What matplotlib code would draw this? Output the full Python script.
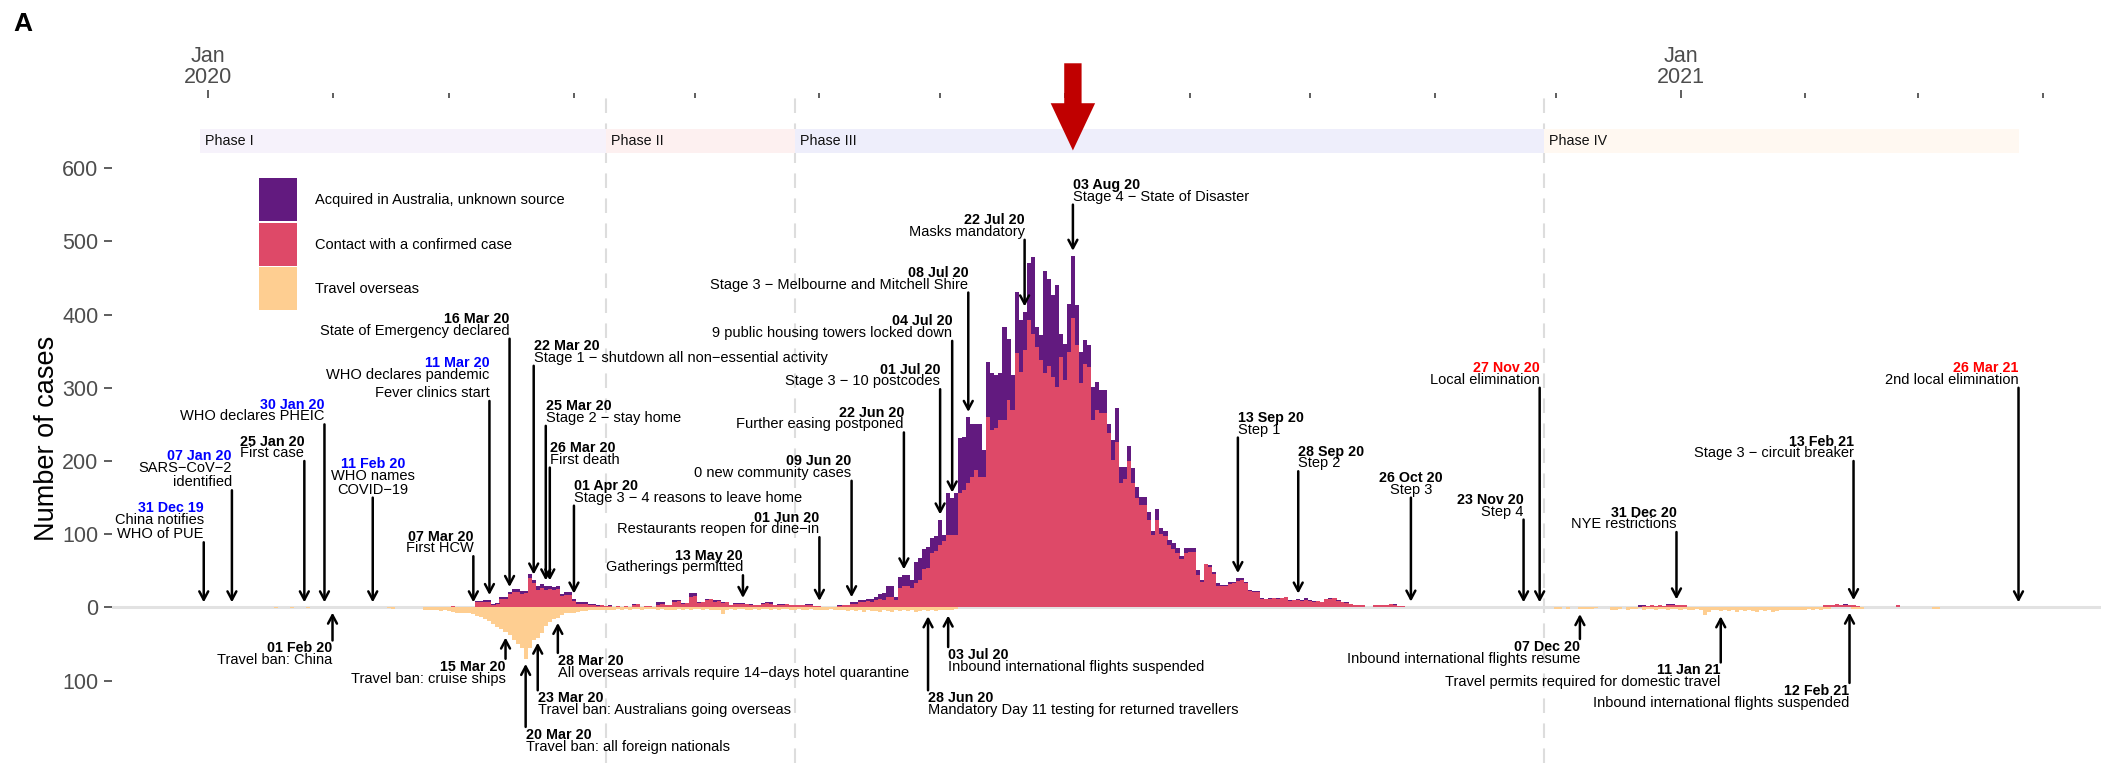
import matplotlib
matplotlib.use("Agg")
import matplotlib.pyplot as plt
import matplotlib.dates as mdates
from matplotlib.patches import Rectangle
from matplotlib.ticker import FixedLocator, FuncFormatter
import pandas as pd

plt.rcParams["font.family"] = ["Liberation Sans", "DejaVu Sans"]

# ---------------------------------------------------------------- data
# locally acquired cases, one row per Monday-Sunday week from 2 Mar 2020:
# daily total and the part of it with an unknown source
local_2020_start = "2020-03-02"
local_2020_total = [
    2, 0, 0, 1, 0, 0, 9,
    9, 10, 10, 5, 6, 14, 14,
    21, 25, 25, 23, 23, 46, 38,
    30, 32, 30, 30, 28, 30, 19,
    21, 21, 12, 7, 7, 7, 5,
    5, 3, 3, 2, 3, 0, 2,
    1, 2, 0, 5, 5, 0, 2,
    2, 0, 7, 7, 3, 3, 10,
    10, 6, 6, 20, 20, 7, 7,
    12, 12, 10, 10, 7, 7, 3,
    6, 6, 6, 5, 5, 4, 4,
    6, 7, 7, 3, 5, 5, 5,
    3, 3, 4, 4, 5, 5, 2,
    2, 1, 1, 1, 1, 3, 4,
    4, 7, 7, 10, 10, 12, 12,
    14, 19, 20, 29, 30, 15, 42,
    45, 45, 38, 62, 67, 80, 83,
    95, 97, 120, 99, 156, 150, 156,
    231, 233, 260, 251, 250, 250, 215,
    335, 320, 317, 320, 383, 367, 317,
    431, 392, 404, 470, 479, 383, 372,
    460, 449, 426, 440, 374, 360, 415,
    480, 413, 349, 365, 358, 301, 308,
    297, 297, 251, 229, 272, 192, 192,
    220, 190, 165, 151, 151, 131, 104,
    135, 108, 104, 92, 88, 81, 70,
    81, 81, 81, 51, 38, 60, 58,
    49, 33, 31, 31, 35, 35, 40,
    40, 35, 24, 22, 22, 13, 11,
    13, 13, 13, 13, 15, 10, 10,
    12, 10, 13, 10, 9, 9, 8,
    12, 13, 13, 10, 8, 7, 5,
    4, 4, 4, 1, 0, 4, 4,
    3, 4, 5, 5, 2, 2, 1,
    1, 1,
]
local_2020_unknown = [
    0, 0, 0, 0, 0, 0, 2,
    2, 3, 3, 1, 1, 3, 3,
    3, 4, 4, 4, 3, 6, 5,
    6, 5, 6, 5, 4, 5, 3,
    4, 4, 3, 2, 2, 2, 1,
    1, 1, 0, 0, 1, 0, 0,
    0, 0, 0, 1, 0, 0, 0,
    0, 0, 3, 2, 0, 0, 2,
    1, 1, 0, 5, 4, 1, 0,
    2, 1, 2, 1, 1, 0, 0,
    1, 1, 1, 0, 1, 0, 1,
    1, 1, 2, 0, 1, 1, 0,
    0, 0, 1, 0, 1, 1, 0,
    0, 0, 0, 0, 0, 1, 1,
    1, 2, 2, 3, 3, 3, 4,
    4, 8, 10, 14, 15, 5, 15,
    16, 16, 12, 28, 29, 28, 29,
    20, 20, 35, 8, 57, 51, 57,
    75, 73, 90, 73, 62, 72, 37,
    75, 78, 72, 64, 127, 84, 47,
    84, 70, 53, 78, 105, 27, 34,
    140, 119, 111, 139, 32, 50, 66,
    85, 55, 43, 32, 29, 45, 38,
    32, 32, 13, 28, 46, 22, 17,
    20, 20, 15, 11, 11, 11, 5,
    15, 8, 7, 7, 8, 7, 4,
    6, 5, 5, 6, 3, 0, 3,
    3, 3, 2, 2, 3, 2, 4,
    3, 2, 2, 1, 1, 1, 0,
    1, 0, 1, 0, 1, 1, 0,
    2, 1, 3, 1, 1, 0, 1,
    1, 1, 0, 1, 0, 1, 0,
    0, 1, 0, 0, 0, 0, 0,
    0, 0, 0, 1, 0, 0, 0,
    0, 0,
]

# later local clusters
local_dec_start = "2020-12-22"
local_dec_total = [4, 4, 2, 3, 2, 3, 2, 5, 5, 4, 4, 3, 1, 1]
local_dec_unknown = [3, 2, 0, 0, 0, 0, 0, 2, 1, 0, 1, 0, 0, 0]
local_feb_start = "2021-02-06"
local_feb_total = [3, 4, 4, 5, 4, 5, 4, 3, 2, 0, 0, 0, 0, 0, 0, 0, 0, 0, 3]
local_feb_unknown = [0, 0, 1, 0, 0, 1, 0, 0, 0, 0, 0, 0, 0, 0, 0, 0, 0, 0, 0]

# overseas acquired cases
travel_early_dates = ["2020-01-18", "2020-01-22", "2020-01-26", "2020-02-15", "2020-02-16"]
travel_early = [1, 1, 1, 1, 2]
travel_2020_start = "2020-02-24"
travel_2020 = [
    3, 3, 4, 3, 5, 4, 5,
    6, 7, 7, 8, 8, 9, 11,
    13, 16, 19, 22, 26, 30, 34,
    38, 44, 50, 55, 70, 55, 45,
    41, 35, 25, 20, 16, 14, 10,
    8, 7, 7, 6, 5, 5, 4,
    4, 3, 4, 3, 3, 3, 2,
    3, 2, 3, 2, 2, 3, 2,
    2, 2, 3, 2, 3, 4, 3,
    2, 3, 2, 3, 2, 2, 3,
    2, 3, 4, 3, 9, 3, 2,
    3, 2, 2, 3, 4, 2, 3,
    2, 2, 3, 2, 3, 2, 2,
    3, 4, 2, 3, 3, 2, 3,
    3, 4, 3, 2, 3, 3, 4,
    5, 4, 5, 4, 6, 4, 5,
    5, 6, 4, 5, 6, 4, 5,
    4, 5, 4, 6, 5, 4, 5,
    4, 5, 4, 3, 4, 3, 2,
]
travel_2021_start = "2020-11-30"
travel_2021 = [
    0, 2, 2, 0, 2, 0, 0,
    2, 2, 2, 2, 1, 0, 0,
    0, 3, 3, 2, 0, 3, 2,
    2, 1, 3, 2, 2, 3, 2,
    2, 3, 2, 2, 3, 2, 3,
    3, 2, 3, 10, 6, 4, 4,
    5, 4, 5, 4, 6, 4, 5,
    4, 5, 6, 4, 5, 4, 6,
    5, 4, 3, 4, 3, 3, 3,
    3, 2, 3, 2, 3, 2, 2,
    0, 0, 0, 0, 0, 2, 2,
    2, 0, 0, 0, 0, 0, 0,
    0, 0, 0, 0, 0, 0, 0,
    0, 0, 0, 0, 2, 2, 0,
]

series_labels = ["Acquired in Australia, unknown source",
                 "Contact with a confirmed case", "Travel overseas"]
col_unknown = "#621A7F"
col_contact = "#DE4968"
col_travel = "#FECE91"

# response phases
phase_names = ["Phase I", "Phase II", "Phase III", "Phase IV"]
phase_starts = ["2019-12-30", "2020-04-09", "2020-05-26", "2020-11-28"]
phase_end = "2021-03-26"
phase_colors = ["#F6F2FB", "#FDF0F0", "#EEEEFB", "#FFF8F1"]

# events with arrows pointing down onto the bars
up_dates = ["2019-12-31", "2020-01-07", "2020-01-25", "2020-01-30", "2020-02-11",
            "2020-03-07", "2020-03-11", "2020-03-16", "2020-03-22", "2020-03-25",
            "2020-03-26", "2020-04-01", "2020-05-13", "2020-06-01", "2020-06-09",
            "2020-06-22", "2020-07-01", "2020-07-04", "2020-07-08", "2020-07-22",
            "2020-08-03", "2020-09-13", "2020-09-28", "2020-10-26", "2020-11-23",
            "2020-11-27", "2020-12-31", "2021-02-13", "2021-03-26"]
up_texts = ["China notifies\nWHO of PUE", "SARS\u2212CoV\u22122\nidentified", "First case",
            "WHO declares PHEIC", "WHO names\nCOVID\u221219", "First HCW",
            "WHO declares pandemic", "State of Emergency declared",
            "Stage 1 \u2212 shutdown all non\u2212essential activity", "Stage 2 \u2212 stay home",
            "First death", "Stage 3 \u2212 4 reasons to leave home", "Gatherings permitted",
            "Restaurants reopen for dine\u2212in", "0 new community cases",
            "Further easing postponed", "Stage 3 \u2212 10 postcodes",
            "9 public housing towers locked down",
            "Stage 3 \u2212 Melbourne and Mitchell Shire", "Masks mandatory",
            "Stage 4 \u2212 State of Disaster", "Step 1", "Step 2", "Step 3", "Step 4",
            "Local elimination", "NYE restrictions", "Stage 3 \u2212 circuit breaker",
            "2nd local elimination"]
up_colors = ["blue", "blue", "black", "blue", "blue", "black", "blue", "black", "black",
             "black", "black", "black", "black", "black", "black", "black", "black",
             "black", "black", "black", "black", "black", "black", "black", "black",
             "red", "black", "black", "red"]
up_notes = {"2020-03-11": "Fever clinics start"}

# events with arrows pointing up at the overseas cases
down_dates = ["2020-02-01", "2020-03-15", "2020-03-20", "2020-03-23", "2020-03-28",
              "2020-06-28", "2020-07-03", "2020-12-07", "2021-01-11", "2021-02-12"]
down_texts = ["Travel ban: China", "Travel ban: cruise ships",
              "Travel ban: all foreign nationals", "Travel ban: Australians going overseas",
              "All overseas arrivals require 14\u2212days hotel quarantine",
              "Mandatory Day 11 testing for returned travellers",
              "Inbound international flights suspended",
              "Inbound international flights resume",
              "Travel permits required for domestic travel",
              "Inbound international flights suspended"]

# ---------------------------------------------------------------- layout
up_tops = [89, 160, 200, 250, 150, 70, 282, 367, 330, 248, 191, 139, 44, 96, 173,
           239, 298, 364, 430, 502, 550, 232, 186, 150, 120, 300, 103, 200, 300]
up_align = ["right", "right", "right", "right", "center", "right", "right", "right",
            "left", "left", "left", "left", "right", "right", "right", "right", "right",
            "right", "right", "right", "left", "left", "left", "center", "right", "right",
            "right", "right", "right"]
down_bottoms = [-45, -70, -163, -113, -62, -113, -54, -43, -75, -103]
down_align = ["right", "right", "left", "left", "left", "left", "left", "right",
              "right", "right"]


def daily(start, values):
    idx = pd.date_range(start, periods=len(values), freq="D")
    return pd.Series(values, index=idx, dtype=float)


days = pd.date_range("2020-01-01", "2021-03-31", freq="D")
total = pd.concat([daily(local_2020_start, local_2020_total),
                   daily(local_dec_start, local_dec_total),
                   daily(local_feb_start, local_feb_total)]).reindex(days, fill_value=0)
unknown = pd.concat([daily(local_2020_start, local_2020_unknown),
                     daily(local_dec_start, local_dec_unknown),
                     daily(local_feb_start, local_feb_unknown)]).reindex(days, fill_value=0)
travel = pd.concat([pd.Series(travel_early, index=pd.to_datetime(travel_early_dates), dtype=float),
                    daily(travel_2020_start, travel_2020),
                    daily(travel_2021_start, travel_2021)]).reindex(days, fill_value=0)
contact = total - unknown

W, H = 2101, 763
fig = plt.figure(figsize=(W / 100, H / 100), dpi=100)
ax = fig.add_axes([112 / W, 0, 1 - 112 / W, (H - 98) / H])

day0 = pd.Timestamp("2020-01-01")
ax.set_xlim(day0 - pd.Timedelta(days=23.8), day0 + pd.Timedelta(days=470.5))
ax.set_ylim(-212.3, 695.6)

# baseline and phase separators
ax.axhline(0, color="#E2E2E2", lw=2.2, zorder=0.5)
for s in phase_starts[1:]:
    ax.axvline(pd.Timestamp(s), color="#DDDDDD", lw=1.5, ls=(0, (7, 5)), zorder=0.4)

# stacked daily bars, overseas cases mirrored below zero
ax.bar(days, contact, width=1.02, color=col_contact, lw=0, zorder=2)
ax.bar(days, unknown, bottom=contact, width=1.02, color=col_unknown, lw=0, zorder=2)
ax.bar(days, -travel, width=1.02, color=col_travel, lw=0, zorder=2)

# phase strip
edges = [pd.Timestamp(s) for s in phase_starts] + [pd.Timestamp(phase_end)]
for i, name in enumerate(phase_names):
    ax.bar(edges[i], 32, bottom=621, width=(edges[i + 1] - edges[i]).days, align="edge",
           color=phase_colors[i], lw=0, zorder=1)
    ax.annotate(name, xy=(edges[i], 637), xytext=(5, 0), textcoords="offset pixels",
                ha="left", va="center", fontsize=10.3, color="#111111")

arrow_kw = dict(arrowstyle="->,head_length=0.6,head_width=0.32", lw=1.8,
                color="black", shrinkA=0, shrinkB=0)
desc_size, date_size = 10.5, 10.3

for d, txt, c, top, ha in zip(up_dates, up_texts, up_colors, up_tops, up_align):
    x = pd.Timestamp(d)
    tip = total.get(x, 0) + 7
    ax.annotate("", xy=(x, tip), xytext=(x, top), arrowprops=arrow_kw, zorder=4)
    lift = 1
    if d in up_notes:
        ax.annotate(up_notes[d], xy=(x, top), xytext=(0, lift), textcoords="offset pixels",
                    ha=ha, va="bottom", fontsize=desc_size)
        lift += 18
    n = txt.count("\n")
    ax.annotate(txt, xy=(x, top), xytext=(0, lift), textcoords="offset pixels",
                ha=ha, va="bottom", fontsize=desc_size, linespacing=1.0,
                multialignment=ha)
    ax.annotate(x.strftime("%d %b %y"), xy=(x, top), xytext=(0, lift + 11.5 + 14.5 * n),
                textcoords="offset pixels", ha=ha, va="bottom", fontsize=date_size,
                fontweight="bold", color=c)

for d, txt, bot, ha in zip(down_dates, down_texts, down_bottoms, down_align):
    x = pd.Timestamp(d)
    tip = -(travel.get(x, 0) + 7)
    ax.annotate("", xy=(x, tip), xytext=(x, bot), arrowprops=arrow_kw, zorder=4)
    ax.annotate(x.strftime("%d %b %y"), xy=(x, bot), xytext=(0, -1),
                textcoords="offset pixels", ha=ha, va="top", fontsize=date_size,
                fontweight="bold")
    ax.annotate(txt, xy=(x, bot), xytext=(0, -13), textcoords="offset pixels",
                ha=ha, va="top", fontsize=desc_size)

# red marker above the peak
ax.annotate("", xy=(pd.Timestamp("2020-08-03"), 624), xytext=(pd.Timestamp("2020-08-03"), 743),
            arrowprops=dict(arrowstyle="simple,head_length=3.4,head_width=3.2,tail_width=1.25",
                            fc="#C00000", ec="none", shrinkA=0, shrinkB=0, mutation_scale=10),
            annotation_clip=False, zorder=5)

# legend keys and labels (pixel positions from the top-left corner)
key_colors = [col_unknown, col_contact, col_travel]
key_tops = [178, 223, 267]
for col, top, lab in zip(key_colors, key_tops, series_labels):
    fig.add_artist(Rectangle((259 / W, 1 - (top + 43) / H), 38 / W, 43 / H,
                             transform=fig.transFigure, color=col, lw=0))
    fig.text(315 / W, 1 - (top + 22) / H, lab, ha="left", va="center", fontsize=10.5)

# axes styling
for sp in ax.spines.values():
    sp.set_visible(False)
ax.xaxis.tick_top()
ax.xaxis.set_major_locator(mdates.YearLocator())
ax.xaxis.set_minor_locator(mdates.MonthLocator())
ax.xaxis.set_major_formatter(mdates.DateFormatter("%b\n%Y"))
ax.tick_params(axis="x", which="major", length=6, width=1.1, color="#333333", pad=1.5,
               labelsize=15.5, labelcolor="#4D4D4D")
ax.tick_params(axis="x", which="minor", length=3.5, width=1.1, color="#333333")
for t in ax.get_xticklabels():
    t.set_linespacing(0.95)

ax.yaxis.set_major_locator(FixedLocator([-100, 0, 100, 200, 300, 400, 500, 600]))
ax.yaxis.set_major_formatter(FuncFormatter(lambda v, p: f"{abs(int(v))}"))
ax.tick_params(axis="y", length=5.8, width=1.1, color="#333333", pad=4,
               labelsize=15.5, labelcolor="#4D4D4D")

fig.text(47 / W, 1 - 438 / H, "Number of cases", rotation=90, ha="center", va="center",
         fontsize=19.5)
fig.text(13 / W, 1 - 24 / H, "A", ha="left", va="center", fontsize=19, fontweight="bold")

fig.savefig("out.png", dpi=100)
